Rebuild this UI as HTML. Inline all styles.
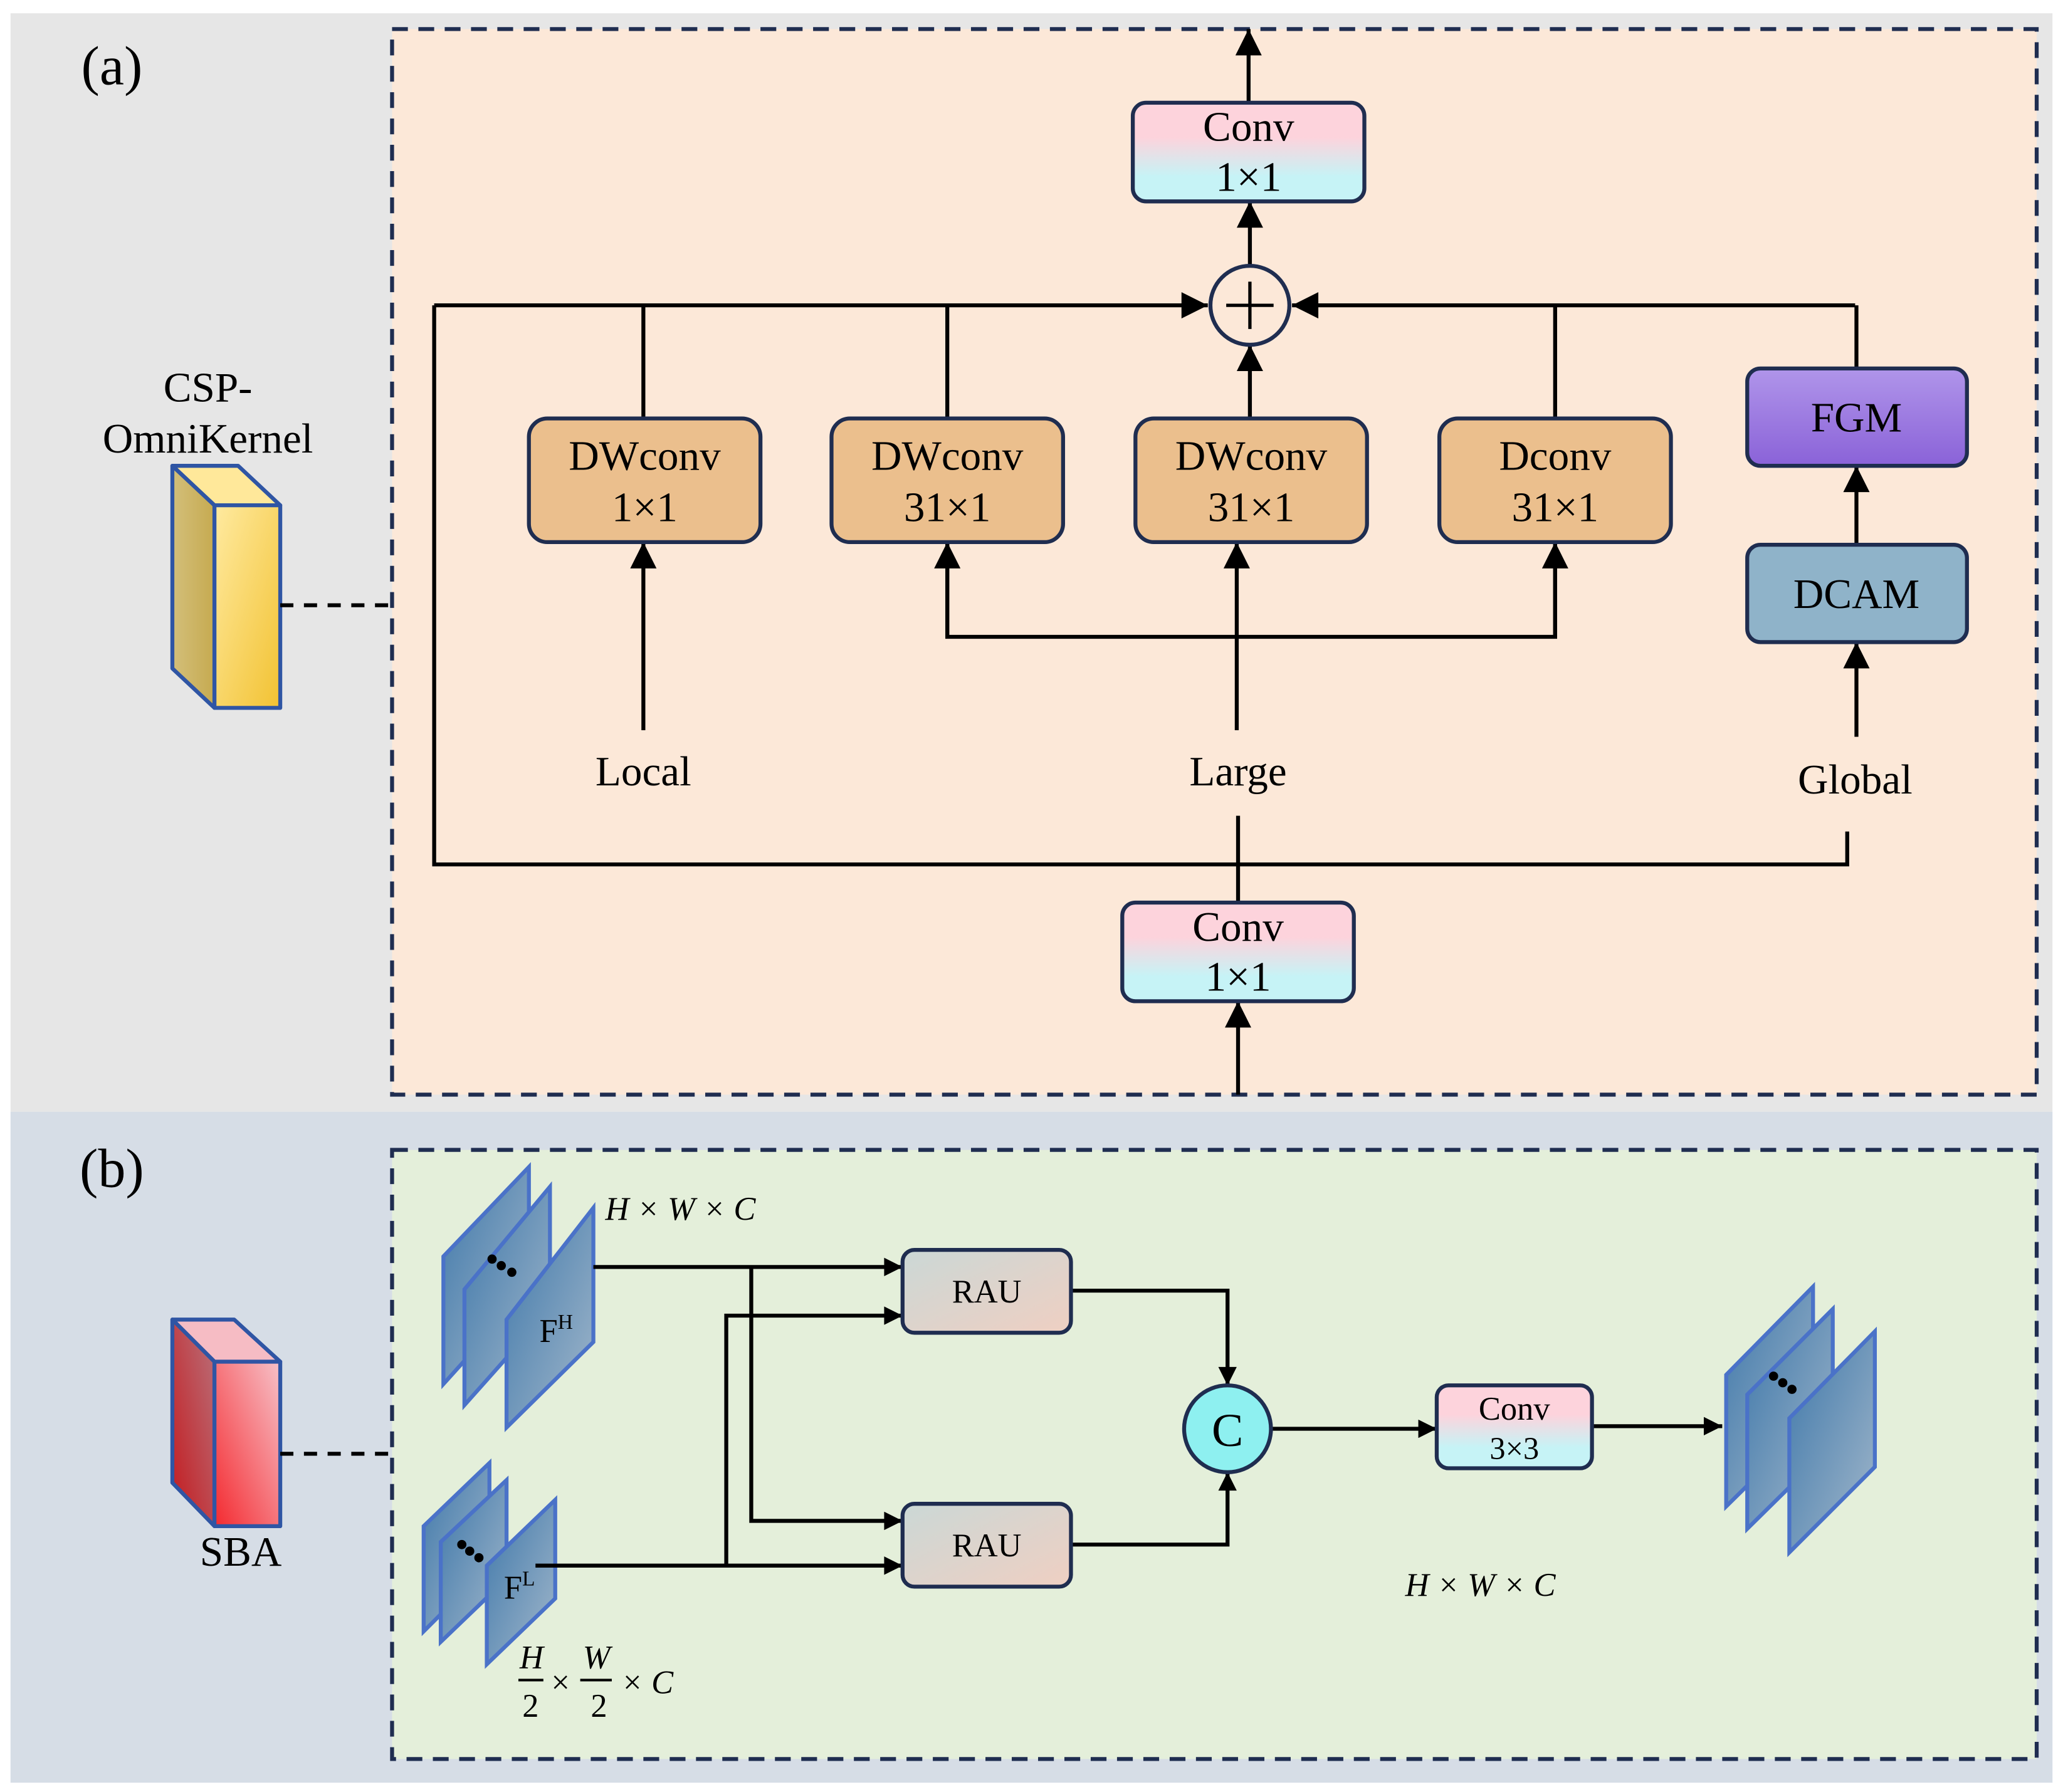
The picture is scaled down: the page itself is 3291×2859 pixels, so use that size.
<!DOCTYPE html>
<html><head><meta charset="utf-8"><style>html,body{margin:0;padding:0;background:#fff}svg{display:block}</style></head>
<body>
<svg width="3291" height="2859" viewBox="0 0 1568 1362" xmlns="http://www.w3.org/2000/svg" font-family="Liberation Serif, serif">
<defs>
<linearGradient id="pc" x1="0" y1="0" x2="0" y2="1"><stop offset="0.35" stop-color="#fdd3dc"/><stop offset="0.75" stop-color="#c6f3f6"/></linearGradient>
<linearGradient id="fgm" x1="0" y1="0" x2="0" y2="1"><stop offset="0" stop-color="#b095ea"/><stop offset="1" stop-color="#8a62d8"/></linearGradient>
<linearGradient id="rau" x1="0" y1="0" x2="1" y2="1"><stop offset="0" stop-color="#cbd8d6"/><stop offset="1" stop-color="#efcfc2"/></linearGradient>
<linearGradient id="plane" x1="0" y1="0" x2="1" y2="1"><stop offset="0" stop-color="#3f78aa"/><stop offset="1" stop-color="#a3b8cb"/></linearGradient>
<linearGradient id="yf" x1="0" y1="0" x2="1" y2="1"><stop offset="0" stop-color="#ffeaa0"/><stop offset="1" stop-color="#f2c232"/></linearGradient>
<linearGradient id="ys" x1="0" y1="0" x2="1" y2="0"><stop offset="0" stop-color="#d3bf7a"/><stop offset="1" stop-color="#c6aa50"/></linearGradient>
<linearGradient id="rf" x1="1" y1="0" x2="0" y2="1"><stop offset="0" stop-color="#f7c1c8"/><stop offset="1" stop-color="#f42a30"/></linearGradient>
<linearGradient id="rs" x1="0" y1="1" x2="1" y2="0"><stop offset="0" stop-color="#c41a1e"/><stop offset="1" stop-color="#b9707a"/></linearGradient>
<marker id="ah" viewBox="0 0 10 10" refX="10" refY="5" markerWidth="16" markerHeight="14" markerUnits="userSpaceOnUse" orient="auto"><path d="M0,0 L10,5 L0,10 z" fill="#000"/></marker>
<marker id="a2" viewBox="0 0 10 10" refX="10" refY="5" markerWidth="22" markerHeight="20" markerUnits="userSpaceOnUse" orient="auto"><path d="M0,0 L10,5 L0,10 z" fill="#000"/></marker>
</defs>
<rect x="0" y="0" width="1568" height="1362" fill="#fff"/>
<rect x="8" y="10" width="1552" height="835" fill="#e6e6e6"/>
<rect x="8" y="845" width="1552" height="510" fill="#d6dde6"/>
<rect x="298" y="22" width="1250" height="810" fill="#fce8d8" stroke="#1f2d50" stroke-width="3" stroke-dasharray="12,8"/>
<rect x="298" y="874" width="1250" height="463" fill="#e4efda" stroke="#1f2d50" stroke-width="3" stroke-dasharray="12,8"/>
<text x="85" y="64" font-size="42" text-anchor="middle">(a)</text>
<text x="85" y="902" font-size="42" text-anchor="middle">(b)</text>

<g stroke="#000" stroke-width="3" fill="none">
<line x1="949" y1="78" x2="949" y2="22" marker-end="url(#a2)"/>
<line x1="950" y1="202" x2="950" y2="153" marker-end="url(#a2)"/>
<line x1="330" y1="232" x2="918" y2="232" marker-end="url(#a2)"/>
<line x1="1410" y1="232" x2="982" y2="232" marker-end="url(#a2)"/>
<polyline points="330,232 330,657 1404,657 1404,632"/>
<line x1="489" y1="232" x2="489" y2="318"/>
<line x1="720" y1="232" x2="720" y2="318"/>
<line x1="1182" y1="232" x2="1182" y2="318"/>
<line x1="1411" y1="232" x2="1411" y2="280"/>
<line x1="950" y1="318" x2="950" y2="262" marker-end="url(#a2)"/>
<line x1="489" y1="555" x2="489" y2="412" marker-end="url(#a2)"/>
<line x1="940" y1="555" x2="940" y2="412" marker-end="url(#a2)"/>
<polyline points="720,412 720,484 1182,484 1182,412"/>
<line x1="720" y1="484" x2="720" y2="412" marker-end="url(#a2)"/>
<line x1="1182" y1="484" x2="1182" y2="412" marker-end="url(#a2)"/>
<line x1="1411" y1="414" x2="1411" y2="354" marker-end="url(#a2)"/>
<line x1="1411" y1="560" x2="1411" y2="488" marker-end="url(#a2)"/>
<line x1="941" y1="620" x2="941" y2="686"/>
<line x1="941" y1="832" x2="941" y2="761" marker-end="url(#a2)"/>
</g>
<circle cx="950" cy="232" r="30" fill="#fce8d8" stroke="#1f2d50" stroke-width="3"/>
<path d="M950,214 V250 M932,232 H968" stroke="#000" stroke-width="2.5"/>
<g stroke="#1f2d50" stroke-width="3">
<rect x="861" y="78" width="176" height="75" rx="10" fill="url(#pc)"/>
<rect x="853" y="686" width="176" height="75" rx="10" fill="url(#pc)"/>
<rect x="402" y="318" width="176" height="94" rx="14" fill="#ebbf8d"/>
<rect x="632" y="318" width="176" height="94" rx="14" fill="#ebbf8d"/>
<rect x="863" y="318" width="176" height="94" rx="14" fill="#ebbf8d"/>
<rect x="1094" y="318" width="176" height="94" rx="14" fill="#ebbf8d"/>
<rect x="1328" y="280" width="167" height="74" rx="10" fill="url(#fgm)"/>
<rect x="1328" y="414" width="167" height="74" rx="10" fill="#8fb3c9"/>
</g>
<g font-size="32" text-anchor="middle" fill="#000">
<text x="949" y="107">Conv</text><text x="949" y="145">1×1</text>
<text x="941" y="715">Conv</text><text x="941" y="753">1×1</text>
<text x="490" y="357">DWconv</text><text x="490" y="396">1×1</text>
<text x="720" y="357">DWconv</text><text x="720" y="396">31×1</text>
<text x="951" y="357">DWconv</text><text x="951" y="396">31×1</text>
<text x="1182" y="357">Dconv</text><text x="1182" y="396">31×1</text>
<text x="1411" y="328">FGM</text>
<text x="1411" y="462">DCAM</text>
<text x="489" y="597">Local</text>
<text x="941" y="597">Large</text>
<text x="1410" y="603">Global</text>
<text x="158" y="305">CSP-</text>
<text x="158" y="344">OmniKernel</text>
<text x="183" y="1190">SBA</text>
</g>
<g stroke="#2f55a4" stroke-width="3" stroke-linejoin="round">
<polygon points="131,354 181,354 213,384 163,384" fill="#ffe89a"/>
<polygon points="131,354 163,384 163,538 131,508" fill="url(#ys)"/>
<rect x="163" y="384" width="50" height="154" fill="url(#yf)"/>
<polygon points="131,1003 178,1003 213,1035 163,1035" fill="#f6bcc4"/>
<polygon points="131,1003 163,1035 163,1160 131,1127" fill="url(#rs)"/>
<rect x="163" y="1035" width="50" height="125" fill="url(#rf)"/>
</g>
<line x1="213" y1="460" x2="298" y2="460" stroke="#000" stroke-width="3" stroke-dasharray="10,8"/>
<line x1="213" y1="1105" x2="298" y2="1105" stroke="#000" stroke-width="3" stroke-dasharray="10,8"/>

<g stroke="#4a72c8" stroke-width="3" fill="url(#plane)">
<polygon points="337,955 402,887 402,980 337,1052"/>
<polygon points="353,980 418,902 418,995 353,1068"/>
<polygon points="385,1003 451,918 451,1020 385,1085"/>
<polygon points="322,1160 372,1112 372,1190 322,1240"/>
<polygon points="335,1172 385,1125 385,1200 335,1248"/>
<polygon points="370,1190 422,1140 422,1215 370,1265"/>
<polygon points="1312,1045 1378,978 1378,1080 1312,1145"/>
<polygon points="1328,1060 1393,995 1393,1098 1328,1162"/>
<polygon points="1360,1078 1425,1012 1425,1115 1360,1180"/>
</g>
<g fill="#000">
<circle cx="374" cy="957" r="3.5"/><circle cx="381" cy="962" r="3.5"/><circle cx="389" cy="967" r="3.5"/>
<circle cx="351" cy="1174" r="3.5"/><circle cx="357" cy="1179" r="3.5"/><circle cx="364" cy="1184" r="3.5"/>
<circle cx="1348" cy="1046" r="3.5"/><circle cx="1355" cy="1051" r="3.5"/><circle cx="1362" cy="1056" r="3.5"/>
</g>
<text x="410" y="1020" font-size="25">F<tspan font-size="16" dy="-10">H</tspan></text>
<text x="383" y="1215" font-size="25">F<tspan font-size="16" dy="-10">L</tspan></text>
<g stroke="#000" stroke-width="3" fill="none">
<line x1="451" y1="963" x2="686" y2="963" marker-end="url(#ah)"/>
<polyline points="571,963 571,1156 686,1156" marker-end="url(#ah)"/>
<line x1="407" y1="1190" x2="686" y2="1190" marker-end="url(#ah)"/>
<polyline points="552,1190 552,1000 686,1000" marker-end="url(#ah)"/>
<polyline points="814,981 933,981 933,1053" marker-end="url(#ah)"/>
<polyline points="814,1174 933,1174 933,1119" marker-end="url(#ah)"/>
<line x1="966" y1="1086" x2="1092" y2="1086" marker-end="url(#ah)"/>
<line x1="1210" y1="1084" x2="1309" y2="1084" marker-end="url(#ah)"/>
</g>
<g stroke="#1f2d50" stroke-width="3">
<rect x="686" y="950" width="128" height="63" rx="9" fill="url(#rau)"/>
<rect x="686" y="1143" width="128" height="63" rx="9" fill="url(#rau)"/>
<rect x="1092" y="1053" width="118" height="63" rx="9" fill="url(#pc)"/>
<circle cx="933" cy="1086" r="33" fill="#8ef0f0"/>
</g>
<g text-anchor="middle" fill="#000">
<text x="750" y="990" font-size="25">RAU</text>
<text x="750" y="1183" font-size="25">RAU</text>
<text x="1151" y="1079" font-size="25">Conv</text>
<text x="1151" y="1109" font-size="24">3×3</text>
<text x="933" y="1099" font-size="36">C</text>
</g>
<g font-size="25" font-style="italic">
<text x="460" y="927">H × W × C</text>
<text x="1068" y="1213">H × W × C</text>
<text x="395" y="1268">H</text><text x="443" y="1268">W</text>
<text x="397" y="1305" font-style="normal">2</text><text x="449" y="1305" font-style="normal">2</text>
<text x="419" y="1287" font-style="normal">×</text><text x="472" y="1287">× C</text>
</g>
<path d="M394,1277 H413 M441,1277 H465" stroke="#000" stroke-width="2"/>
</svg>
</body></html>
